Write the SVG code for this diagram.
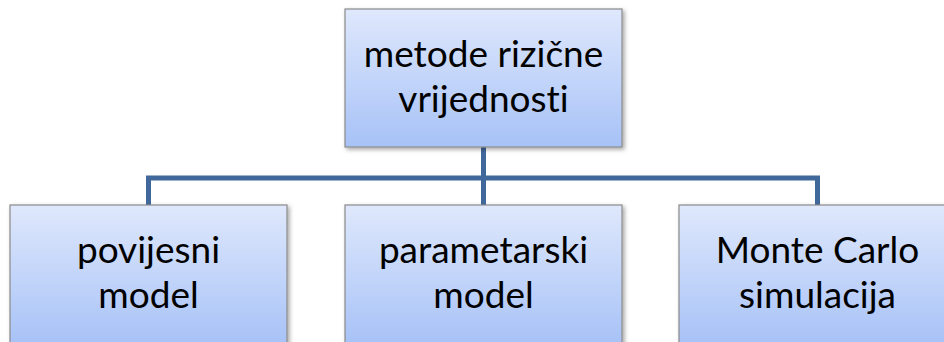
<svg xmlns="http://www.w3.org/2000/svg" width="944" height="342" viewBox="0 0 944 342">
<style>
.box{fill:url(#g);stroke:#8a8a8a;stroke-width:1.2;filter:url(#sh)}
.t{font-family:Lato,"Open Sans",sans-serif;font-size:37px;fill:#000;text-anchor:middle;font-variant-ligatures:none;font-feature-settings:"liga" 0}
.c{fill:none;stroke:#41689b;stroke-width:5}
</style>
<defs>
<linearGradient id="g" x1="0" y1="0" x2="0" y2="1">
<stop offset="0" stop-color="#dfe8fc"/>
<stop offset="1" stop-color="#a7c2f7"/>
</linearGradient>
<filter id="sh" x="-10%" y="-10%" width="125%" height="125%">
<feDropShadow dx="2" dy="2" stdDeviation="2" flood-color="#000" flood-opacity="0.35"/>
</filter>
</defs>
<g id="connectors">
<path class="c" d="M483.5 147 V178 M148.5 205 V178 H817.5 V205 M483.5 178 V205"/>
</g>
<g id="root">
<rect class="box" x="345" y="9" width="277" height="138"/>
<text class="t" x="483.5" y="67">metode rizične</text>
<text class="t" x="483.5" y="112">vrijednosti</text>
</g>
<g id="n1">
<rect class="box" x="10" y="205" width="277" height="140"/>
<text class="t" x="148.5" y="263">povijesni</text>
<text class="t" x="148.5" y="308">model</text>
</g>
<g id="n2">
<rect class="box" x="345" y="205" width="277" height="140"/>
<text class="t" x="483.5" y="263">parametarski</text>
<text class="t" x="483.5" y="308">model</text>
</g>
<g id="n3">
<rect class="box" x="679" y="205" width="277" height="140"/>
<text class="t" x="817.5" y="263">Monte Carlo</text>
<text class="t" x="817.5" y="308">simulacija</text>
</g>
</svg>
